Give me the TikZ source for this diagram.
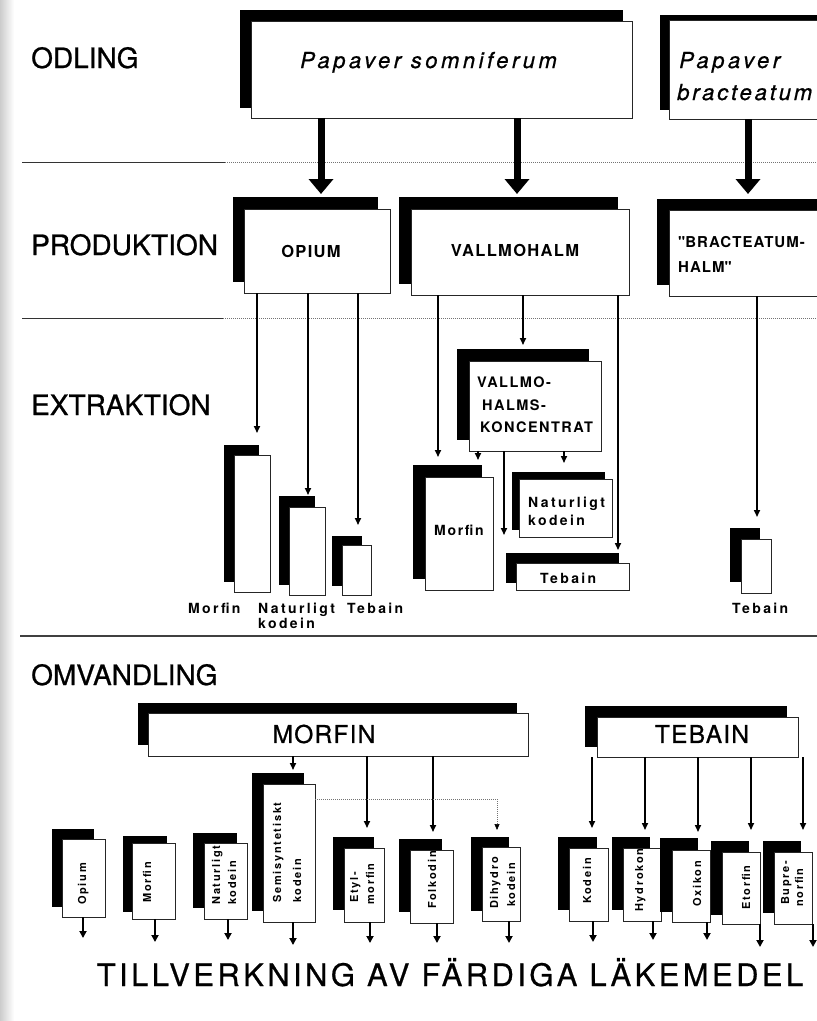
\documentclass[tikz,border=0pt]{standalone}
\usepackage{fontspec}
\setmainfont{TeX Gyre Heros}
\usetikzlibrary{arrows.meta,fit,calc}
\newcommand\fsz[1]{\fontsize{#1}{#1}\selectfont}
\newcommand\lsp[1]{\addfontfeature{LetterSpace=#1}}
\newcommand\fb[1]{\addfontfeature{FakeBold=#1}}
\newcommand\shb[9]{%
  \node[shd, fit={(#2,#3) (#4,#5)}] (#1-s) {};
  \node[wbx, fit={(#6,#7) (#8,#9)}] (#1) {};
}
\tikzset{
  shd/.style={fill=black, draw=none, inner sep=0pt, outer sep=0pt},
  wbx/.style={fill=white, draw=black!85, line width=0.9pt, inner sep=0pt, outer sep=0pt},
  fatarrow/.style={line width=7pt, -{Triangle[length=15pt,width=24pt]}},
  thinarr/.style={line width=1.6pt, -{Triangle[length=7pt,width=6pt]}},
  downarr/.style={line width=2.2pt, -{Triangle[length=7pt,width=7pt]}},
  dotline/.style={draw=black!55, line width=0.6pt, dash pattern=on 1pt off 1pt},
  section/.style={font=\fsz{28}\fb{0.8}, anchor=base west, inner sep=0pt},
  ital/.style={font=\fsz{22}\itshape\lsp{16}\fb{0.8}, anchor=base west, inner sep=0pt},
  mid/.style={font=\fsz{16.5}\bfseries\lsp{8}, inner sep=0pt},
  konc/.style={font=\fsz{14.5}\bfseries\lsp{10}, anchor=base west, inner sep=0pt},
  lab/.style={font=\fsz{14}\bfseries\lsp{17}, anchor=base west, inner sep=0pt},
  big/.style={font=\fsz{24.5}\lsp{5}\fb{0.8}, inner sep=0pt},
  rot/.style={font=\fsz{11}\bfseries\lsp{16}, rotate=90, anchor=base west, inner sep=0pt},
}
\begin{document}
\begin{tikzpicture}[x=1pt,y=-1pt]
\useasboundingbox (0,0) rectangle (817,1021);
\fill[white] (0,0) rectangle (817,1021);
\shade[left color=black!20, right color=white] (0,0) rectangle (14,1021);

% separators
\draw[line width=1pt, black!80] (22,162) -- (225,162);
\draw[dotline] (225,162) -- (817,162);
\draw[line width=1pt, black!80] (22,318) -- (223,318);
\draw[dotline] (223,318) -- (817,318);
\draw[line width=1.1pt, black!75] (20,636) -- (817,636);

% section labels
\node[section] (odl) at (31,68) {ODLING};
\node[section] (prod) at (31,255) {PRODUKTION};
\node[section] (extr) at (31,415) {EXTRAKTION};
\node[section] (omv) at (31,685) {OMVANDLING};

% ODLING
\shb{ps}{240}{10}{623}{108}{251}{21}{632}{118}
\node[ital] (ps-t) at (300,68) {Papaver somniferum};
\shb{pb}{660}{15}{830}{110}{669}{20}{830}{119}
\node[ital] (pb-t1) at (679,68) {Papaver};
\node[ital, font=\fsz{22}\itshape\lsp{13}\fb{0.8}] (pb-t2) at (677,100) {bracteatum};

% PRODUKTION
\shb{op}{233}{197}{378}{282}{244}{209}{390}{293}
\node[mid] (op-t) at (311,251) {OPIUM};
\shb{vh}{399}{197}{618}{284}{411}{209}{629}{295}
\node[mid] (vh-t) at (515,250) {VALLMOHALM};
\shb{bh}{657}{199}{830}{285}{669}{210}{830}{296}
\node[mid, anchor=base west, font=\fsz{15}\bfseries\lsp{7}] (bh-t1) at (678,247) {\textquotedbl BRACTEATUM-};
\node[mid, anchor=base west, font=\fsz{15}\bfseries\lsp{7}] (bh-t2) at (678,272) {HALM\textquotedbl};

\draw[fatarrow, shorten >=3pt] (321,0 |- ps.south) -- (321,0 |- op-s.north);
\draw[fatarrow, shorten >=3pt] (517,0 |- ps.south) -- (517,0 |- vh-s.north);
\draw[fatarrow, shorten >=5pt] (748,0 |- pb.south) -- (748,0 |- bh-s.north);

% EXTRAKTION
\shb{em1}{224}{445}{259}{582}{234}{455}{270}{592}
\shb{ek1}{279}{496}{315}{585}{289}{507}{325}{595}
\shb{et1}{332}{536}{362}{586}{342}{545}{371}{595}
\node[lab] (em1-l) at (188,613) {Morfin};
\node[lab] (ek1-l1) at (258,613) {Naturligt};
\node[lab] (ek1-l2) at (258,628) {kodein};
\node[lab] (et1-l) at (347,613) {Tebain};

\shb{vk}{457}{349}{589}{440}{469}{361}{601}{451}
\node[konc] (vk-t1) at (477,387) {VALLMO-};
\node[konc] (vk-t2) at (482,410) {HALMS-};
\node[konc] (vk-t3) at (480,432) {KONCENTRAT};
\shb{em2}{413}{465}{482}{579}{425}{477}{493}{590}
\node[lab, font=\fsz{14}\bfseries\lsp{12}] (em2-t) at (434,535) {Morfin};
\shb{ek2}{512}{472}{605}{530}{519}{479}{612}{537}
\node[lab] (ek2-t1) at (528,507) {Naturligt};
\node[lab] (ek2-t2) at (528,525) {kodein};
\shb{et2}{506}{553}{619}{583}{516}{563}{629}{590}
\node[lab] (et2-t) at (540,583) {Tebain};
\shb{et3}{730}{528}{760}{582}{741}{539}{771}{593}
\node[lab] (et3-l) at (732,613) {Tebain};

\draw[thinarr, shorten >=12pt] (257,0 |- op.south) -- (257,0 |- em1-s.north);
\draw[thinarr, shorten >=1pt] (308,0 |- op.south) -- (308,0 |- ek1-s.north);
\draw[thinarr, shorten >=11pt] (358,0 |- op.south) -- (358,0 |- et1-s.north);
\draw[thinarr, shorten >=8pt] (438,0 |- vh.south) -- (438,0 |- em2-s.north);
\draw[thinarr, shorten >=4pt] (523,0 |- vh.south) -- (523,0 |- vk-s.north);
\draw[thinarr, shorten >=3pt] (618,0 |- vh.south) -- (618,0 |- et2-s.north);
\draw[thinarr, shorten >=5pt] (478,0 |- vk.south) -- (478,0 |- em2-s.north);
\draw[thinarr, shorten >=18pt] (504,0 |- vk.south) -- (504,0 |- et2-s.north);
\draw[thinarr, shorten >=9pt] (564,0 |- vk.south) -- (564,0 |- ek2-s.north);
\draw[thinarr, shorten >=11pt] (757,0 |- bh.south) -- (757,0 |- et3-s.north);

% OMVANDLING
\shb{mo}{138}{703}{517}{745}{148}{713}{528}{756}
\node[big] (mo-t) at (324,734) {MORFIN};
\shb{te}{585}{706}{787}{747}{597}{717}{798}{757}
\node[big] (te-t) at (702,734) {TEBAIN};

\shb{b1}{52}{829}{94}{907}{62}{839}{105}{917}
\shb{b2}{123}{836}{167}{912}{132}{843}{175}{919}
\shb{b3}{193}{833}{237}{908}{204}{843}{247}{919}
\shb{b4}{252}{773}{304}{911}{263}{784}{315}{922}
\shb{b5}{333}{837}{374}{910}{344}{848}{384}{922}
\shb{b6}{399}{839}{442}{912}{410}{850}{453}{923}
\shb{b7}{471}{837}{509}{911}{482}{847}{520}{921}
\shb{b8}{558}{837}{597}{910}{569}{848}{608}{921}
\shb{b9}{612}{837}{650}{910}{623}{848}{661}{921}
\shb{b10}{660}{838}{698}{912}{672}{850}{710}{922}
\shb{b11}{711}{841}{749}{915}{722}{852}{760}{924}
\shb{b12}{763}{841}{801}{913}{774}{852}{812}{924}

\node[rot] (b1-t) at (86,905) {Opium};
\node[rot] (b2-t) at (151,903) {Morfin};
\node[rot] (b3-t1) at (220,905) {Naturligt};
\node[rot] (b3-t2) at (236,905) {kodein};
\node[rot] (b4-t1) at (281,903) {Semisyntetiskt};
\node[rot] (b4-t2) at (301,903) {kodein};
\node[rot] (b5-t1) at (358,903) {Etyl-};
\node[rot] (b5-t2) at (374,905) {morfin};
\node[rot] (b6-t) at (436,909) {Folkodin};
\node[rot] (b7-t1) at (498,909) {Dihydro};
\node[rot] (b7-t2) at (515,907) {kodein};
\node[rot] (b8-t) at (591,904) {Kodein};
\node[rot] (b9-t) at (643,912) {Hydrokon};
\node[rot] (b10-t) at (701,907) {Oxikon};
\node[rot] (b11-t) at (750,910) {Etorfin};
\node[rot] (b12-t1) at (789,905) {Bupre-};
\node[rot] (b12-t2) at (803,907) {norfin};

\draw[thinarr, shorten >=3pt] (293,0 |- mo.south) -- (293,0 |- b4-s.north);
\draw[thinarr, shorten >=9pt] (367,0 |- mo.south) -- (367,0 |- b5-s.north);
\draw[thinarr, shorten >=7pt] (433,0 |- mo.south) -- (433,0 |- b6-s.north);
\draw[dotline, -{Triangle[length=6pt,width=5pt,color=black]}, shorten >=7pt] (b4.east |- 0,799) -| (497,0 |- b7-s.north);

\draw[thinarr, shorten >=9pt] (592,0 |- te.south) -- (592,0 |- b8-s.north);
\draw[thinarr, shorten >=7pt] (645,0 |- te.south) -- (645,0 |- b9-s.north);
\draw[thinarr, shorten >=6pt] (698,0 |- te.south) -- (698,0 |- b10-s.north);
\draw[thinarr, shorten >=11pt] (751,0 |- te.south) -- (751,0 |- b11-s.north);
\draw[thinarr, shorten >=11pt] (803,0 |- te.south) -- (803,0 |- b12-s.north);

\draw[downarr] (83,0 |- b1.south) -- ++(0,21);
\draw[downarr] (155,0 |- b2.south) -- ++(0,23);
\draw[downarr] (228,0 |- b3.south) -- ++(0,21);
\draw[downarr] (293,0 |- b4.south) -- ++(0,23);
\draw[downarr] (370,0 |- b5.south) -- ++(0,21);
\draw[downarr] (437,0 |- b6.south) -- ++(0,20);
\draw[downarr] (509,0 |- b7.south) -- ++(0,22);
\draw[downarr] (593,0 |- b8.south) -- ++(0,21);
\draw[downarr] (653,0 |- b9.south) -- ++(0,19);
\draw[downarr] (707,0 |- b10.south) -- ++(0,18);
\draw[downarr] (760,0 |- b11.south) -- ++(0,23);
\draw[downarr] (813,0 |- b12.south) -- ++(0,23);

\node[font=\fsz{31}\lsp{11}\fb{0.6}, anchor=base, inner sep=0pt] (title) at (450,986) {TILLVERKNING AV FÄRDIGA LÄKEMEDEL};
\end{tikzpicture}
\end{document}
